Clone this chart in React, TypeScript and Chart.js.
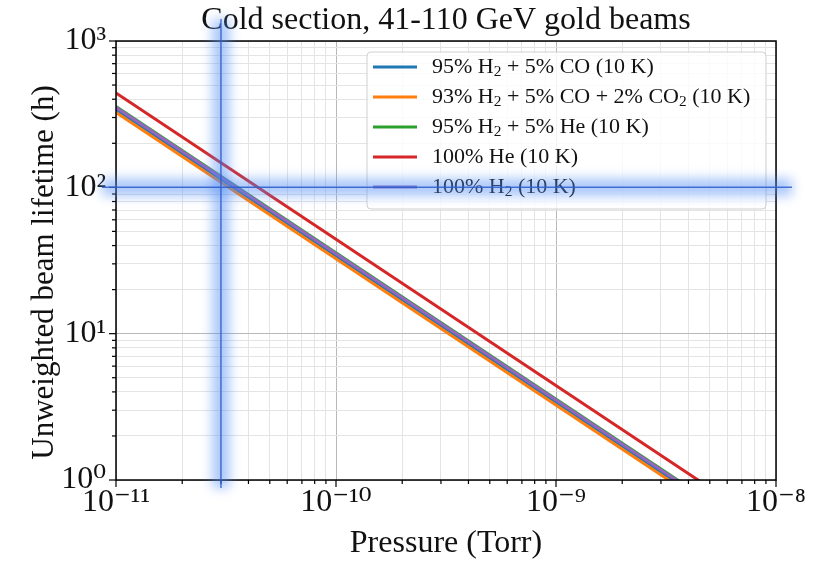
import { useEffect, useRef } from 'react';
import { Chart, registerables } from 'chart.js';
Chart.register(...registerables);

const TITLE = 'Cold section, 41-110 GeV gold beams';
const X_LABEL = 'Pressure (Torr)';
const Y_LABEL = 'Unweighted beam lifetime (h)';

// pressure end points (Torr) and lifetime (h) for each mixture
const PRESSURE = [1e-11, 1e-8];
const H2_CO = [340, 0.34];
const H2_CO_CO2 = [325, 0.325];
const H2_HE = [357, 0.357];
const HE = [442, 0.442];
const H2 = [352, 0.352];

const SERIES_LABELS = [
  '95% H₂ + 5% CO (10 K)',
  '93% H₂ + 5% CO + 2% CO₂ (10 K)',
  '95% H₂ + 5% He (10 K)',
  '100% He (10 K)',
  '100% H₂ (10 K)',
];
const SERIES_VALUES = [H2_CO, H2_CO_CO2, H2_HE, HE, H2];
const SERIES_COLORS = ['#1f77b4', '#ff7f0e', '#2ca02c', '#d62728', '#9467bd'];

const X_DECADES = [-11, -10, -9, -8];
const Y_DECADES = [0, 1, 2, 3];
const MINOR_MULTIPLIERS = [2, 3, 4, 5, 6, 7, 8, 9];

const MARK_PRESSURE = 3e-11;
const MARK_LIFETIME = 100;

const FONT = "'Liberation Serif', 'DejaVu Serif', serif";
const SUP: Record<string, string> = {
  '-': '⁻', '0': '⁰', '1': '¹', '2': '²', '3': '³', '4': '⁴',
  '5': '⁵', '6': '⁶', '7': '⁷', '8': '⁸', '9': '⁹',
};

function buildTicks(decades: number[]) {
  const out: number[] = [];
  decades.forEach((e, i) => {
    out.push(Math.pow(10, e));
    if (i < decades.length - 1) MINOR_MULTIPLIERS.forEach((m) => out.push(m * Math.pow(10, e)));
  });
  return out;
}
const X_TICKS = buildTicks(X_DECADES);
const Y_TICKS = buildTicks(Y_DECADES);

function isPow10(v: number) {
  const l = Math.log10(v);
  return Math.abs(l - Math.round(l)) < 1e-6;
}
function powLabel(v: number) {
  if (!isPow10(v)) return '';
  const e = String(Math.round(Math.log10(v)));
  return '10' + e.split('').map((c) => SUP[c] || c).join('');
}

function drawRich(ctx: CanvasRenderingContext2D, text: string, x: number, y: number, size: number) {
  let cx = x;
  const parts = text.split(/(₂)/);
  for (const p of parts) {
    if (!p) continue;
    if (p === '₂') {
      ctx.font = `${size * 0.7}px ${FONT}`;
      ctx.fillText('2', cx, y + size * 0.22);
      cx += ctx.measureText('2').width;
    } else {
      ctx.font = `${size}px ${FONT}`;
      ctx.fillText(p, cx, y);
      cx += ctx.measureText(p).width;
    }
  }
}

const overlayPlugin = {
  id: 'overlay',
  afterDraw(chart: any) {
    const ctx: CanvasRenderingContext2D = chart.ctx;
    const { left, right, top, bottom } = chart.chartArea;
    const xs = chart.scales.x;
    const ys = chart.scales.y;
    ctx.save();
    // spines
    ctx.strokeStyle = '#000';
    ctx.lineWidth = 1.5;
    ctx.strokeRect(left, top, right - left, bottom - top);
    // tick marks
    ctx.lineWidth = 1.2;
    xs.ticks.forEach((t: any) => {
      const px = xs.getPixelForValue(t.value);
      const len = isPow10(t.value) ? 7 : 4;
      ctx.beginPath();
      ctx.moveTo(px, bottom);
      ctx.lineTo(px, bottom + len);
      ctx.stroke();
    });
    ys.ticks.forEach((t: any) => {
      const py = ys.getPixelForValue(t.value);
      const len = isPow10(t.value) ? 7 : 4;
      ctx.beginPath();
      ctx.moveTo(left, py);
      ctx.lineTo(left - len, py);
      ctx.stroke();
    });
    // y axis title
    ctx.save();
    ctx.translate(45, (top + bottom) / 2 + 12);
    ctx.rotate(-Math.PI / 2);
    ctx.fillStyle = '#111';
    ctx.font = `31px ${FONT}`;
    ctx.textAlign = 'center';
    ctx.textBaseline = 'middle';
    ctx.fillText(Y_LABEL, 0, 0);
    ctx.restore();
    // legend
    const lx = 367, ly = 52, lw = right - 10 - 367, lh = 157;
    ctx.beginPath();
    (ctx as any).roundRect(lx, ly, lw, lh, 4);
    ctx.fillStyle = 'rgba(255,255,255,0.8)';
    ctx.fill();
    ctx.strokeStyle = '#d0d0d0';
    ctx.lineWidth = 1;
    ctx.stroke();
    ctx.textBaseline = 'middle';
    ctx.textAlign = 'left';
    SERIES_LABELS.forEach((lab, i) => {
      const y = ly + 15 + i * 30;
      ctx.strokeStyle = SERIES_COLORS[i];
      ctx.lineWidth = 3;
      ctx.beginPath();
      ctx.moveTo(lx + 6, y);
      ctx.lineTo(lx + 50, y);
      ctx.stroke();
      ctx.fillStyle = '#111';
      drawRich(ctx, lab, lx + 65, y, 22);
    });
    // glowing marker lines
    const vx = xs.getPixelForValue(MARK_PRESSURE);
    const hy = ys.getPixelForValue(MARK_LIFETIME);
    const segs = [
      [vx, top - 22, vx, bottom + 8],
      [left - 14, hy, right + 16, hy],
    ];
    ctx.lineCap = 'butt';
    segs.forEach(([x1, y1, x2, y2]) => {
      ctx.save();
      ctx.filter = 'blur(6px)';
      ctx.strokeStyle = 'rgba(80,140,245,0.5)';
      ctx.lineWidth = 17;
      ctx.beginPath();
      ctx.moveTo(x1, y1);
      ctx.lineTo(x2, y2);
      ctx.stroke();
      ctx.restore();
    });
    segs.forEach(([x1, y1, x2, y2]) => {
      ctx.strokeStyle = 'rgba(45,95,205,0.85)';
      ctx.lineWidth = 1.5;
      ctx.beginPath();
      ctx.moveTo(x1, y1);
      ctx.lineTo(x2, y2);
      ctx.stroke();
    });
    ctx.restore();
  },
};

export default function App() {
  const ref = useRef<HTMLCanvasElement>(null);
  useEffect(() => {
    if (!ref.current) return;
    const datasets = SERIES_LABELS.map((label, i) => ({
      label,
      data: PRESSURE.map((p, j) => ({ x: p, y: SERIES_VALUES[i][j] })),
      borderColor: SERIES_COLORS[i],
      backgroundColor: SERIES_COLORS[i],
      borderWidth: 3,
      pointRadius: 0,
      order: SERIES_LABELS.length - i,
    }));
    const gridColor = (c: any) => (c.tick && isPow10(c.tick.value) ? '#b8b8b8' : '#e4e4e4');
    const chart = new Chart(ref.current, {
      type: 'line',
      data: { datasets },
      options: {
        animation: false,
        responsive: false,
        layout: { padding: { left: 0, right: 39, top: 0, bottom: 0 } },
        plugins: {
          legend: { display: false },
          tooltip: { enabled: false },
          title: {
            display: true,
            text: TITLE,
            fullSize: false,
            color: '#111',
            font: { family: FONT, size: 32, weight: 'normal', lineHeight: 1 },
            padding: { top: 5, bottom: 4 },
          },
        },
        scales: {
          x: {
            type: 'logarithmic',
            min: 1e-11,
            max: 1e-8,
            afterBuildTicks: (s: any) => { s.ticks = X_TICKS.map((v) => ({ value: v })); },
            afterFit: (s: any) => { s.height = 81; },
            ticks: {
              callback: (v: any) => powLabel(Number(v)),
              autoSkip: false,
              maxRotation: 0,
              color: '#111',
              padding: 3,
              font: { family: FONT, size: 32 },
            },
            grid: { color: gridColor, lineWidth: 1, drawTicks: false },
            border: { display: false },
            title: {
              display: true,
              text: X_LABEL,
              color: '#111',
              font: { family: FONT, size: 32, lineHeight: 1.2 },
              padding: { top: 0, bottom: -2 },
            },
          },
          y: {
            type: 'logarithmic',
            min: 1,
            max: 1000,
            afterBuildTicks: (s: any) => { s.ticks = Y_TICKS.map((v) => ({ value: v })); },
            afterFit: (s: any) => { s.width = 116; },
            ticks: {
              callback: (v: any) => powLabel(Number(v)),
              autoSkip: false,
              color: '#111',
              padding: 10,
              font: { family: FONT, size: 32 },
            },
            grid: { color: gridColor, lineWidth: 1, drawTicks: false },
            border: { display: false },
            title: { display: false },
          },
        },
      },
      plugins: [overlayPlugin],
    } as any);
    return () => chart.destroy();
  }, []);
  return (
    <div style={{ position: 'absolute', left: 0, top: 0, width: 815, height: 561, background: '#fff' }}>
      <canvas ref={ref} width={815} height={561} />
    </div>
  );
}
